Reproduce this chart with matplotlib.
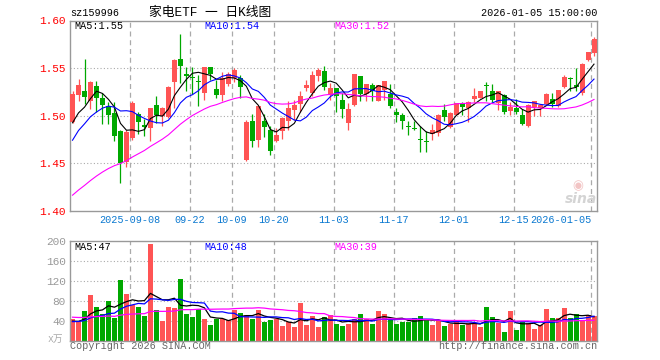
import pandas as pd
import matplotlib
matplotlib.use("Agg")
import matplotlib.pyplot as plt

plt.rcParams['font.family'] = ['Liberation Mono', 'Noto Sans CJK SC', 'DejaVu Sans']

# ---- daily K-line data, 159996 ----
open_ = [1.493, 1.522, 1.526, 1.516, 1.531, 1.519, 1.510, 1.503, 1.484, 1.451,
         1.477, 1.502, 1.490, 1.487, 1.511, 1.500, 1.499, 1.535, 1.560, 1.544,
         1.541, 1.537, 1.524, 1.551, 1.528, 1.522, 1.533, 1.540, 1.540, 1.454,
         1.495, 1.475, 1.495, 1.485, 1.474, 1.484, 1.494, 1.506, 1.512, 1.529,
         1.524, 1.542, 1.547, 1.522, 1.529, 1.517, 1.492, 1.511, 1.542, 1.523,
         1.532, 1.516, 1.527, 1.523, 1.504, 1.501, 1.489, 1.487, 1.476, 1.474,
         1.481, 1.482, 1.506, 1.488, 1.501, 1.513, 1.508, 1.518, 1.519, 1.532,
         1.526, 1.513, 1.522, 1.505, 1.508, 1.501, 1.489, 1.509, 1.508, 1.512,
         1.518, 1.510, 1.530, 1.540, 1.532, 1.524, 1.559, 1.566]
close = [1.523, 1.532, 1.520, 1.535, 1.519, 1.511, 1.501, 1.479, 1.450, 1.483,
         1.513, 1.493, 1.488, 1.508, 1.501, 1.508, 1.530, 1.559, 1.552, 1.542,
         1.540, 1.535, 1.551, 1.544, 1.522, 1.540, 1.544, 1.548, 1.530, 1.493,
         1.474, 1.510, 1.488, 1.463, 1.480, 1.498, 1.508, 1.511, 1.521, 1.532,
         1.543, 1.548, 1.530, 1.529, 1.521, 1.507, 1.507, 1.544, 1.523, 1.533,
         1.526, 1.532, 1.536, 1.510, 1.501, 1.494, 1.488, 1.486, 1.475, 1.472,
         1.485, 1.501, 1.499, 1.503, 1.513, 1.509, 1.514, 1.521, 1.526, 1.531,
         1.517, 1.526, 1.504, 1.509, 1.504, 1.491, 1.511, 1.516, 1.511, 1.523,
         1.512, 1.527, 1.541, 1.539, 1.530, 1.554, 1.567, 1.581]
high = [1.526, 1.539, 1.560, 1.537, 1.536, 1.524, 1.514, 1.514, 1.485, 1.485,
        1.515, 1.504, 1.497, 1.508, 1.521, 1.509, 1.531, 1.560, 1.586, 1.551,
        1.551, 1.543, 1.551, 1.551, 1.538, 1.546, 1.546, 1.550, 1.543, 1.496,
        1.502, 1.510, 1.502, 1.489, 1.487, 1.499, 1.515, 1.517, 1.526, 1.538,
        1.547, 1.550, 1.552, 1.534, 1.529, 1.524, 1.513, 1.544, 1.542, 1.533,
        1.534, 1.532, 1.536, 1.533, 1.508, 1.503, 1.495, 1.495, 1.489, 1.484,
        1.491, 1.502, 1.512, 1.504, 1.513, 1.514, 1.515, 1.529, 1.526, 1.535,
        1.533, 1.526, 1.523, 1.514, 1.518, 1.507, 1.512, 1.516, 1.512, 1.524,
        1.524, 1.527, 1.543, 1.541, 1.550, 1.555, 1.567, 1.583]
low = [1.492, 1.515, 1.512, 1.507, 1.504, 1.491, 1.491, 1.473, 1.429, 1.446,
       1.475, 1.481, 1.479, 1.473, 1.492, 1.489, 1.498, 1.508, 1.534, 1.526,
       1.523, 1.510, 1.517, 1.538, 1.519, 1.516, 1.531, 1.535, 1.519, 1.453,
       1.467, 1.467, 1.478, 1.459, 1.472, 1.476, 1.485, 1.496, 1.504, 1.526,
       1.521, 1.536, 1.527, 1.517, 1.504, 1.498, 1.485, 1.510, 1.516, 1.515,
       1.515, 1.515, 1.517, 1.508, 1.493, 1.486, 1.480, 1.485, 1.462, 1.462,
       1.475, 1.479, 1.494, 1.487, 1.501, 1.501, 1.493, 1.514, 1.519, 1.515,
       1.514, 1.506, 1.502, 1.501, 1.502, 1.490, 1.488, 1.500, 1.500, 1.511,
       1.509, 1.509, 1.529, 1.526, 1.526, 1.522, 1.557, 1.563]
volume = [43, 38, 59, 91, 67, 53, 79, 45, 121, 93,
          71, 67, 49, 193, 61, 39, 67, 65, 123, 53,
          47, 63, 43, 31, 43, 43, 41, 61, 55, 51,
          43, 61, 37, 41, 43, 29, 37, 27, 75, 31,
          49, 27, 47, 51, 33, 29, 33, 43, 53, 43,
          33, 59, 53, 43, 33, 37, 37, 45, 49, 43,
          31, 41, 29, 33, 39, 31, 35, 35, 27, 67,
          47, 35, 17, 59, 21, 37, 35, 23, 31, 63,
          46, 46, 65, 45, 53, 41, 51, 49]

# sessions before the visible window, only used to warm up the moving averages
prev_close = [1.370, 1.375, 1.380, 1.378, 1.385, 1.390, 1.388, 1.385, 1.392, 1.397,
              1.390, 1.385, 1.380, 1.388, 1.392, 1.395, 1.390, 1.385, 1.400, 1.410,
              1.430, 1.450, 1.460, 1.470, 1.470, 1.480, 1.490, 1.490, 1.480]
prev_volume = [55, 60, 48, 52, 45, 58, 62, 50, 47, 53,
               49, 44, 56, 51, 48, 60, 52, 46, 42, 50,
               36, 40, 38, 35, 37, 41, 36, 39, 37]

holidays = ['2025-10-01', '2025-10-02', '2025-10-03', '2025-10-06', '2025-10-07',
            '2025-10-08', '2026-01-01', '2026-01-02']
tick_dates = ['2025-09-08', '2025-09-22', '2025-10-09', '2025-10-20', '2025-11-03',
              '2025-11-17', '2025-12-01', '2025-12-15', '2026-01-05']
tick_labels = ['2025-09-08', '09-22', '10-09', '10-20', '11-03',
               '11-17', '12-01', '12-15', '2026-01-05']

dates = pd.bdate_range('2025-08-25', '2026-01-05')
dates = dates[~dates.isin(pd.to_datetime(holidays))]
n = len(close)
x = list(range(n))

df = pd.DataFrame({'open': open_, 'high': high, 'low': low, 'close': close,
                   'volume': volume}, index=dates)

c_all = pd.Series(prev_close + close)
v_all = pd.Series(prev_volume + volume)
k = len(prev_close)
ma = {w: c_all.rolling(w).mean().iloc[k:].values for w in (5, 10, 30)}
vma = {w: v_all.rolling(w).mean().iloc[k:].values for w in (5, 10, 30)}

RED = '#ff5454'
GREEN = '#00a800'
cols = [RED if c >= o else GREEN for o, c in zip(open_, close)]
ma_cols = {5: 'black', 10: '#0000ff', 30: '#ff00ff'}
GRID = '#aaaaaa'
FRAME = '#999999'
W, H = 660, 360

fig = plt.figure(figsize=(6.6, 3.6), dpi=100)
fig.patch.set_facecolor('white')

tick_pos = [list(dates).index(pd.Timestamp(d)) - 0.42 for d in tick_dates]

# ---- price panel ----
ax = fig.add_axes([70 / W, 1 - 211 / H, 527 / W, 190.5 / H])
ax.set_xlim(-0.42, n - 0.5)
ax.set_ylim(1.40, 1.60)

for y in [1.45, 1.50, 1.55]:
    ax.axhline(y, color=GRID, ls=(0, (1, 2)), lw=0.8, zorder=0)
for p in tick_pos:
    ax.axvline(p, color=GRID, ls=(0, (4, 3)), lw=0.9, zorder=0)

body_bot = [min(o, c) for o, c in zip(open_, close)]
body_h = [max(abs(c - o), 0.0008) for o, c in zip(open_, close)]
ax.vlines(x, low, high, colors=cols, lw=0.9, zorder=2)
ax.bar(x, body_h, bottom=body_bot, width=5 / 6, color=cols, lw=0, zorder=3)

for w in (5, 10, 30):
    ax.plot(x, ma[w], color=ma_cols[w], lw=0.8, zorder=4)

ax.set_yticks([1.40, 1.45, 1.50, 1.55, 1.60])
ax.set_yticklabels(['1.40', '1.45', '1.50', '1.55', '1.60'], color='#ff0000', fontsize=8)
ax.set_xticks(tick_pos)
ax.set_xticklabels(tick_labels, color='#0a78d0', fontsize=7.3)
ax.get_xticklabels()[-1].set_ha('right')
ax.tick_params(length=0, pad=3)
for s in ax.spines.values():
    s.set_color(FRAME)
    s.set_linewidth(1)

# ---- volume panel ----
av = fig.add_axes([70 / W, 1 - 340.7 / H, 527 / W, 100 / H])
av.set_xlim(-0.42, n - 0.5)
av.set_ylim(0, 200)
for y in [40, 80, 120, 160]:
    av.axhline(y, color=GRID, ls=(0, (1, 2)), lw=0.8, zorder=0)
for p in tick_pos:
    av.axvline(p, color=GRID, ls=(0, (4, 3)), lw=0.9, zorder=0)
av.bar(x, df['volume'], width=5 / 6, color=cols, lw=0, zorder=2)
for w in (5, 10, 30):
    av.plot(x, vma[w], color=ma_cols[w], lw=0.9, zorder=3)
av.set_yticks([40, 80, 120, 160, 200])
av.set_yticklabels(['40', '80', '120', '160', '200'], color='#999999', fontsize=8)
av.set_xticks([])
av.tick_params(length=0, pad=3)
for s in av.spines.values():
    s.set_color(FRAME)
    s.set_linewidth(1)


def ftext(px, py, s, **kw):
    fig.text(px / W, 1 - py / H, s, va='center', **kw)


# header
ftext(70, 13, 'sz159996', fontsize=7.3, color='black')
ftext(210, 13, '家电ETF 一 日K线图', fontsize=9.2, ha='center', color='black')
ftext(597, 13, '2026-01-05 15:00:00', fontsize=7.3, ha='right', color='black')

# legends
ftext(74, 26, 'MA5:1.55', fontsize=7.3, color='black')
ftext(204, 26, 'MA10:1.54', fontsize=7.3, color='#0000ff')
ftext(334, 26, 'MA30:1.52', fontsize=7.3, color='#ff00ff')
ftext(74, 247, 'MA5:47', fontsize=7.3, color='black')
ftext(204, 247, 'MA10:48', fontsize=7.3, color='#0000ff')
ftext(334, 247, 'MA30:39', fontsize=7.3, color='#ff00ff')

# footer
ftext(63, 339, 'x万', fontsize=7, ha='right', color='#aaaaaa')
ftext(70, 346, 'Copyright 2026 SINA.COM', fontsize=7.3, color='#666666')
ftext(597, 346, 'http://finance.sina.com.cn', fontsize=7.3, ha='right', color='#666666')

# sina watermark
ftext(581, 199, 'sina', fontsize=10, ha='center', color='#d4d4d4',
      fontweight='bold', style='italic', family='DejaVu Sans')
ftext(578, 186, '◉', fontsize=9, ha='center', color='#f2c4c4', family='DejaVu Sans')

fig.savefig('out.png', dpi=100)
